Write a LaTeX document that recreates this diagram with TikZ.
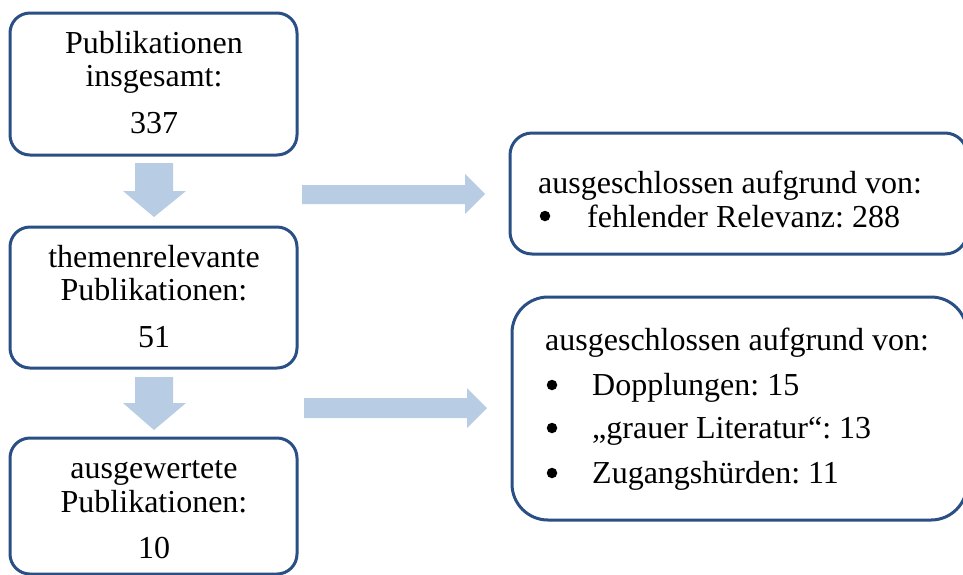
\documentclass[tikz,border=0pt]{standalone}
\usepackage{fontspec}
\setmainfont{Liberation Serif}
\frenchspacing
\definecolor{boxblue}{RGB}{41,79,133}
\definecolor{arrowblue}{RGB}{184,204,228}
\begin{document}
\begin{tikzpicture}[x=1pt,y=-1pt,
  box/.style={draw=boxblue, line width=3pt, fill=white, inner sep=0pt, outer sep=0pt},
  ctxt/.style={anchor=base, inner sep=0pt, font=\fontsize{32}{38}\selectfont},
  ltxt/.style={anchor=base west, inner sep=0pt, font=\fontsize{32}{38}\selectfont},
  bulletdot/.style={circle, fill=black, inner sep=0pt, minimum size=10.5pt},
  blockarrow/.style={fill=arrowblue, draw=none}]
\useasboundingbox (0,0) rectangle (963,574);
\clip (0,0) rectangle (963,574);
% left boxes
\node[box, rounded corners=20pt, minimum width=287pt, minimum height=142pt] (b1) at (153.5,84) {};
\node[box, rounded corners=20pt, minimum width=287pt, minimum height=141pt] (b2) at (153.5,297.5) {};
\node[box, rounded corners=20pt, minimum width=287pt, minimum height=136pt] (b3) at (153.5,506) {};
% right boxes
\node[box, rounded corners=22pt, minimum width=457pt, minimum height=121pt] (r1) at (738.5,193.5) {};
\node[box, rounded corners=36pt, minimum width=455pt, minimum height=223pt] (r2) at (739.5,408.5) {};
% text left
\node[ctxt] (t1a) at (154,53) {Publikationen};
\node[ctxt] (t1b) at (154,86) {insgesamt:};
\node[ctxt] (t1c) at (154,133) {337};
\node[ctxt] (t2a) at (154,267) {themenrelevante};
\node[ctxt] (t2b) at (154,300) {Publikationen:};
\node[ctxt] (t2c) at (154,347) {51};
\node[ctxt] (t3a) at (154,478) {ausgewertete};
\node[ctxt] (t3b) at (154,512) {Publikationen:};
\node[ctxt] (t3c) at (154,558) {10};
% text right 1
\node[ltxt] (r1a) at (538,193) {ausgeschlossen aufgrund von:};
\node[bulletdot] (r1bb) at (545,216) {};
\node[ltxt] (r1b) at (587,227) {fehlender Relevanz: 288};
% text right 2
\node[ltxt] (r2a) at (545,350) {ausgeschlossen aufgrund von:};
\node[bulletdot] (r2bb) at (552,385) {};
\node[ltxt] (r2b) at (592,395) {Dopplungen: 15};
\node[bulletdot] (r2cb) at (552,428) {};
\node[ltxt] (r2c) at (592,438) {„grauer Literatur“: 13};
\node[bulletdot] (r2db) at (552,473) {};
\node[ltxt] (r2d) at (592,483) {Zugangshürden: 11};
% block arrows
\fill[blockarrow] (135,163) -- (173,163) -- (173,191) -- (186,191) -- (154,217) -- (123,191) -- (135,191) -- cycle;
\fill[blockarrow] (135,377) -- (173,377) -- (173,403) -- (186,403) -- (154,430) -- (123,403) -- (135,403) -- cycle;
\fill[blockarrow] (302,185) -- (465,185) -- (465,174) -- (485,194) -- (465,214) -- (465,204) -- (302,204) -- cycle;
\fill[blockarrow] (304,398) -- (467,398) -- (467,388) -- (487,408) -- (467,428) -- (467,418) -- (304,418) -- cycle;
\end{tikzpicture}
\end{document}
